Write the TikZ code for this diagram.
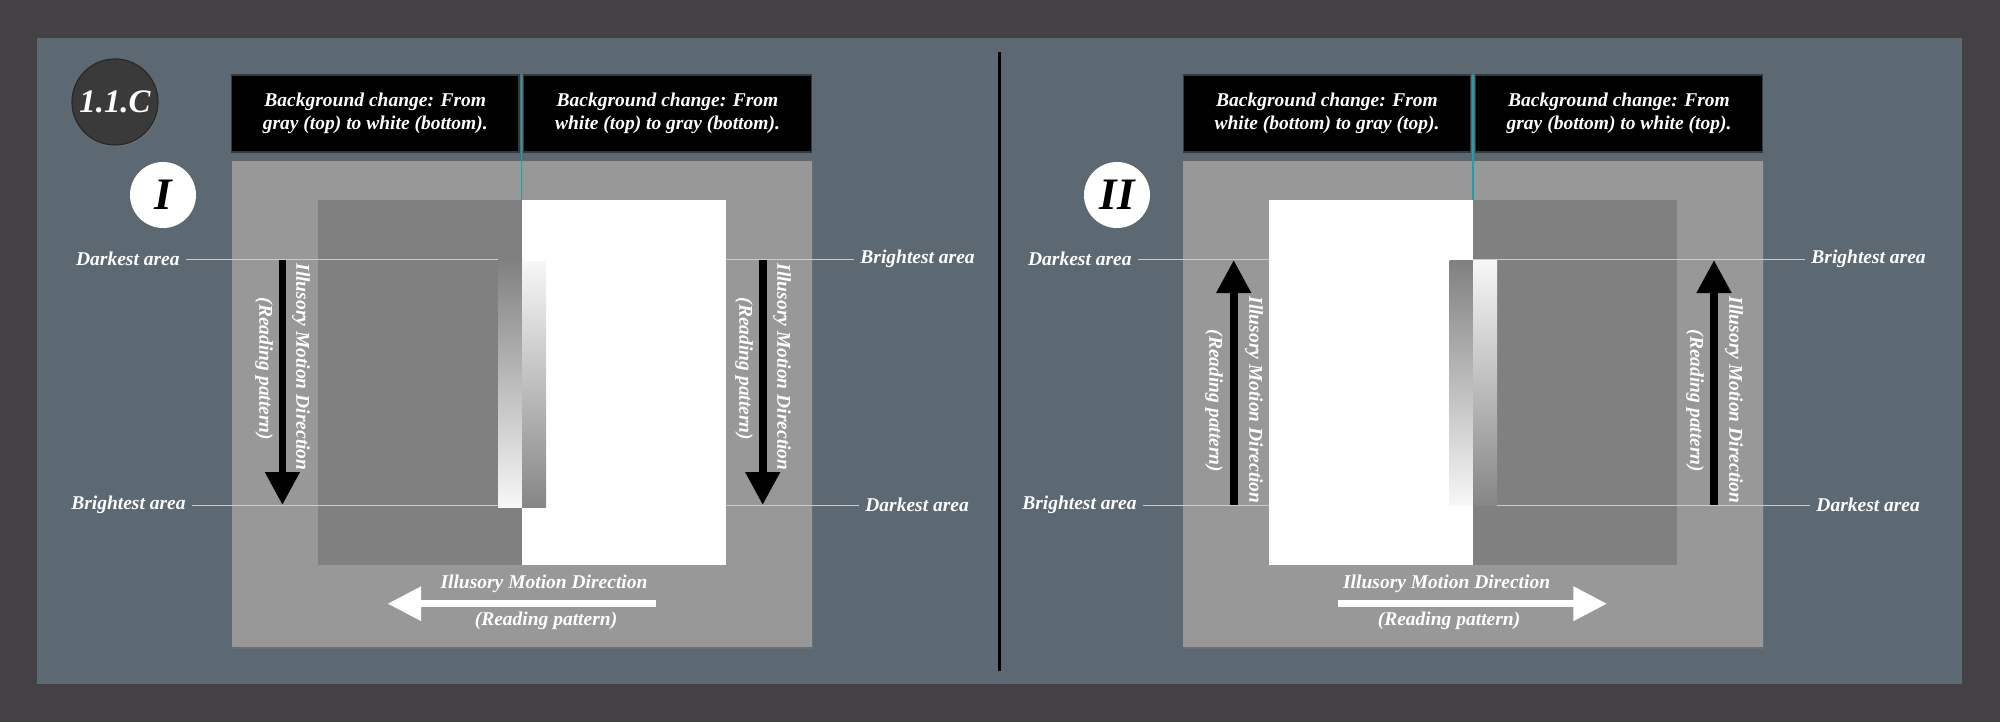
\documentclass[tikz,border=0pt]{standalone}
\usepackage{fontspec}
\setmainfont{Liberation Serif}
\usetikzlibrary{arrows.meta,shadows}
\definecolor{outerbg}{RGB}{67,65,68}
\definecolor{panelbg}{RGB}{92,104,114}
\definecolor{sqgray}{RGB}{152,152,152}
\definecolor{midgray}{RGB}{128,128,128}
\definecolor{bargray}{RGB}{134,134,134}
\definecolor{barwhite}{RGB}{247,247,247}
\definecolor{cyanline}{RGB}{32,160,166}
\definecolor{badgefill}{RGB}{58,58,58}
\definecolor{badgeedge}{RGB}{40,40,40}
\definecolor{leader}{RGB}{200,204,206}
\definecolor{boxedge}{RGB}{52,58,64}
\begin{document}
\begin{tikzpicture}[x=0.5pt,y=-0.5pt,
  txt/.style={text=white,font=\fontsize{9.75}{11.5}\selectfont\bfseries\itshape},
  headbox/.style={txt,fill=black,draw=boxedge,line width=0.6pt,minimum width=143.75pt,minimum height=38.5pt,align=center,inner sep=0pt},
  arealab/.style={txt,inner xsep=3pt,inner ysep=1pt},
  leaderline/.style={draw=leader,line width=0.5pt},
  vlab/.style={txt,rotate=-90,inner sep=0pt},
  hlab/.style={txt,inner sep=0pt},
  darrow/.style={line width=3.85pt,-{Triangle[width=16.5pt,length=16.5pt]}},
  warrow/.style={white,line width=3.35pt,-{Triangle[width=16.5pt,length=16.8pt]}},
  romancircle/.style={circle,fill=white,minimum size=33pt,inner sep=0pt,font=\fontsize{22.5}{22.5}\selectfont\bfseries\itshape,text=black},
  cyanrule/.style={draw=cyanline,line width=0.8pt},
  sqshadow/.style={drop shadow={opacity=0.35,shadow xshift=0.6pt,shadow yshift=-0.9pt}}
]
\useasboundingbox (0,0) rectangle (2000,722);
\fill[outerbg] (0,0) rectangle (2000,722);
\fill[panelbg] (37,38) rectangle (1962,684);

% badge
\node[circle,fill=badgefill,draw=badgeedge,line width=0.6pt,minimum size=43pt,inner sep=0pt,
      text=white,font=\fontsize{16.4}{16.4}\selectfont\bfseries\itshape,
      drop shadow={opacity=0.35,shadow xshift=0.6pt,shadow yshift=-0.8pt}] (badge) at (115,102) {1.1.C};

% divider
\coordinate (divtop) at (999.5,52);
\coordinate (divbot) at (999.5,671);
\draw[black,line width=1.3pt] (divtop) -- (divbot);

% ================= panel I =================
\node[romancircle] (rI) at (163,195) {I};
\node[headbox] (hA) at (375.25,113.5) {Background change: From\\gray (top) to white (bottom).};
\node[headbox] (hB) at (667.5,113.5) {Background change: From\\white (top) to gray (bottom).};

\fill[sqgray,sqshadow] (232,161) rectangle (812,647);
\fill[midgray] (318,200) rectangle (522,565);
\fill[white] (522,200) rectangle (726,565);
\shade[top color=midgray,bottom color=barwhite] (498,259) rectangle (522,507);
\shade[top color=barwhite,bottom color=bargray] (522,261) rectangle (546,507);

\coordinate (cA1) at (521.5,75);
\coordinate (cA2) at (521.5,200);
\draw[cyanrule] (cA1) -- (cA2);

% leaders panel I
\node[arealab,anchor=east] (dkL1) at (186,259) {Darkest area};
\node[arealab,anchor=east] (brL1) at (192,505) {Brightest area};
\node[arealab,anchor=west] (brR1) at (854,259) {Brightest area};
\node[arealab,anchor=west] (dkR1) at (859,505) {Darkest area};
\coordinate (pdkL1) at (498,259);
\coordinate (pbrL1) at (498,505);
\coordinate (pbrR1) at (726,259);
\coordinate (pdkR1) at (726,505);
\draw[leaderline] (dkL1.east) -- (pdkL1);
\draw[leaderline] (brL1.east) -- (pbrL1);
\draw[leaderline] (brR1.west) -- (pbrR1);
\draw[leaderline] (dkR1.west) -- (pdkR1);

% vertical arrows panel I
\coordinate (a1s) at (282.4,260);
\coordinate (a1e) at (282.4,505);
\coordinate (a2s) at (762.7,260);
\coordinate (a2e) at (762.7,505);
\draw[darrow] (a1s) -- (a1e);
\draw[darrow] (a2s) -- (a2e);
\node[vlab] (v1a) at (301,367) {Illusory Motion Direction};
\node[vlab] (v1b) at (264,369) {(Reading pattern)};
\node[vlab] (v2a) at (782,367) {Illusory Motion Direction};
\node[vlab] (v2b) at (744,369) {(Reading pattern)};

% horizontal arrow panel I
\coordinate (h1s) at (656,603.7);
\coordinate (h1e) at (387.6,603.7);
\draw[warrow] (h1s) -- (h1e);
\node[hlab] (hl1a) at (544,584) {Illusory Motion Direction};
\node[hlab] (hl1b) at (546,621) {(Reading pattern)};

% ================= panel II =================
\node[romancircle] (rII) at (1117,195) {II};
\node[headbox] (hC) at (1327,113.5) {Background change: From\\white (bottom) to gray (top).};
\node[headbox] (hD) at (1619,113.5) {Background change: From\\gray (bottom) to white (top).};

\fill[sqgray,sqshadow] (1183,161) rectangle (1763,647);
\fill[white] (1269,200) rectangle (1473,565);
\fill[midgray] (1473,200) rectangle (1677,565);
\shade[top color=midgray,bottom color=barwhite] (1449.5,260) rectangle (1473,505);
\shade[top color=barwhite,bottom color=bargray] (1473,260) rectangle (1497,505);

\coordinate (cB1) at (1473,75);
\coordinate (cB2) at (1473,200);
\draw[cyanrule] (cB1) -- (cB2);

% leaders panel II
\node[arealab,anchor=east] (dkL2) at (1138,259) {Darkest area};
\node[arealab,anchor=east] (brL2) at (1143,505) {Brightest area};
\node[arealab,anchor=west] (brR2) at (1805,259) {Brightest area};
\node[arealab,anchor=west] (dkR2) at (1810,505) {Darkest area};
\coordinate (pdkL2) at (1269,259);
\coordinate (pbrL2) at (1269,505);
\coordinate (pbrR2) at (1473,259);
\coordinate (pdkR2) at (1497,505);
\draw[leaderline] (dkL2.east) -- (pdkL2);
\draw[leaderline] (brL2.east) -- (pbrL2);
\draw[leaderline] (brR2.west) -- (pbrR2);
\draw[leaderline] (dkR2.west) -- (pdkR2);

% vertical arrows panel II
\coordinate (a3s) at (1233.7,505);
\coordinate (a3e) at (1233.7,260);
\coordinate (a4s) at (1714,505);
\coordinate (a4e) at (1714,260);
\draw[darrow] (a3s) -- (a3e);
\draw[darrow] (a4s) -- (a4e);
\node[vlab] (v3a) at (1254,400) {Illusory Motion Direction};
\node[vlab] (v3b) at (1214,401) {(Reading pattern)};
\node[vlab] (v4a) at (1734,400) {Illusory Motion Direction};
\node[vlab] (v4b) at (1695,401) {(Reading pattern)};

% horizontal arrow panel II
\coordinate (h2s) at (1338,603.7);
\coordinate (h2e) at (1607,603.7);
\draw[warrow] (h2s) -- (h2e);
\node[hlab] (hl2a) at (1446.6,584) {Illusory Motion Direction};
\node[hlab] (hl2b) at (1449,621) {(Reading pattern)};
\end{tikzpicture}
\end{document}
